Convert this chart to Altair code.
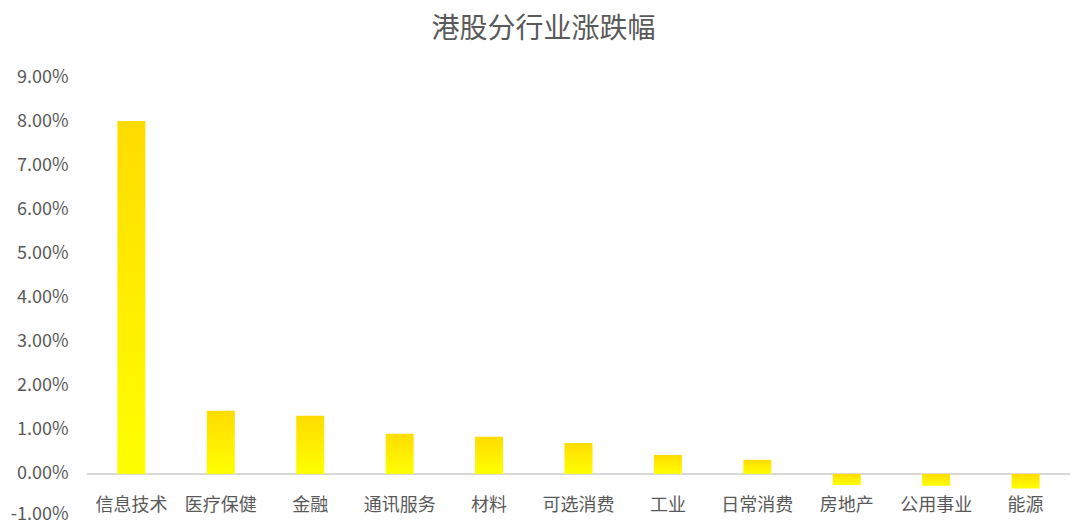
import altair as alt
import pandas as pd

categories = ["信息技术", "医疗保健", "金融", "通讯服务", "材料", "可选消费", "工业", "日常消费", "房地产", "公用事业", "能源"]
values = [0.0800, 0.0143, 0.0132, 0.0091, 0.0084, 0.0070, 0.0043, 0.0032, -0.0025, -0.0027, -0.0033]
y_ticks = [-0.01, 0, 0.01, 0.02, 0.03, 0.04, 0.05, 0.06, 0.07, 0.08, 0.09]

df = pd.DataFrame({"行业": categories, "涨跌幅": values})

FONT = "Noto Sans CJK SC"
GREY = "#595959"

gradient = alt.Gradient(
    gradient="linear",
    x1=0, x2=0, y1=0, y2=1,
    stops=[alt.GradientStop(color="#FFDC00", offset=0),
           alt.GradientStop(color="#FFFF00", offset=1)],
)

y_scale = alt.Scale(domain=[-0.01, 0.09], nice=False)

bars = alt.Chart(df).mark_bar(color=gradient).encode(
    x=alt.X("行业:N", sort=categories, title=None,
            scale=alt.Scale(paddingInner=0.687, paddingOuter=0.34),
            axis=alt.Axis(orient="bottom", offset=-43, domain=False, ticks=False,
                          labelAngle=0, labelFont=FONT, labelFontSize=18,
                          labelColor=GREY, labelPadding=21)),
    y=alt.Y("涨跌幅:Q", scale=y_scale, title=None,
            axis=alt.Axis(values=y_ticks,
                          labelExpr="replace(format(datum.value, '.2%'), '\u2212', '-')",
                          labelOffset={"condition": {"test": "datum.value < -0.005", "value": -4}, "value": 0},
                          domain=False, ticks=False, grid=False,
                          labelFont=FONT, labelFontSize=18, labelColor=GREY,
                          labelPadding=19)),
)

zero = alt.Chart(df).mark_rule(color="#D9D9D9", strokeWidth=2).encode(
    y=alt.datum(0, scale=y_scale)
)

chart = alt.layer(zero, bars).properties(
    width=983,
    height=441,
    autosize=alt.AutoSizeParams(type="none"),
    padding={"left": 79, "top": 69, "right": 0, "bottom": 3},
    title=alt.TitleParams("港股分行业涨跌幅", font=FONT, fontSize=28, color=GREY,
                          fontWeight="normal", anchor="middle", dx=-35, offset=24),
).configure(background="white").configure_view(strokeWidth=0, stroke=None)

chart.save("out.html", embed_options={"renderer": "svg", "actions": False})
